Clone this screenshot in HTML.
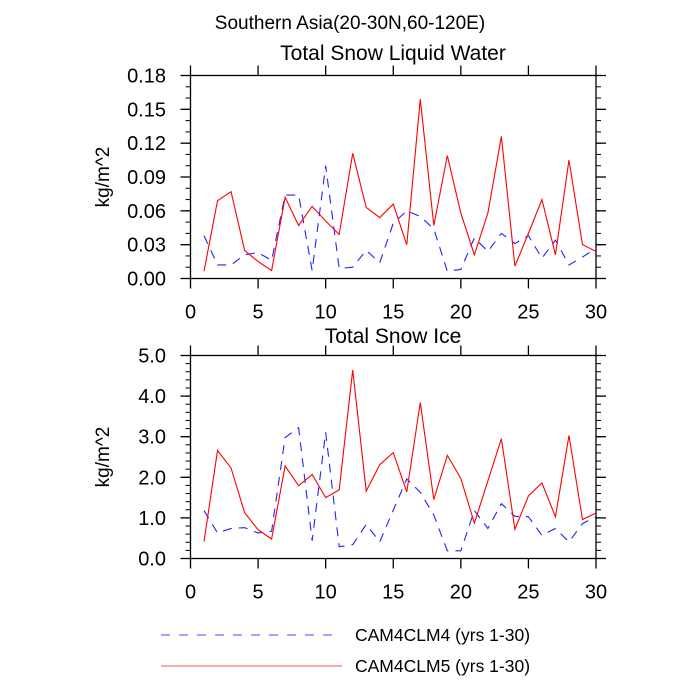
<!DOCTYPE html>
<html><head><meta charset="utf-8"><style>
html,body{margin:0;padding:0;background:#fff}
svg{display:block;font-family:"Liberation Sans",sans-serif}
</style></head><body>
<svg id="c" width="700" height="700" viewBox="0 0 700 700">
<text x="350" y="29" text-anchor="middle" font-size="19">Southern Asia(20-30N,60-120E)</text>
<g id="p1"></g><g id="p2"></g>
<g>
<line x1="161" y1="635" x2="340" y2="635" stroke="#4444ff" stroke-width="1" stroke-dasharray="9,9"/>
<text x="355" y="641" font-size="17.5">CAM4CLM4 (yrs 1-30)</text>
<line x1="161" y1="666" x2="342" y2="666" stroke="#ff5555" stroke-width="1"/>
<text x="355" y="672" font-size="17.5">CAM4CLM5 (yrs 1-30)</text>
</g>
</svg>
<script>
const years = [1,2,3,4,5,6,7,8,9,10,11,12,13,14,15,16,17,18,19,20,21,22,23,24,25,26,27,28,29,30];
const liqClm5 = [0.0065,0.069,0.077,0.025,0.015,0.007,0.072,0.047,0.064,0.051,0.039,0.111,0.063,0.054,0.066,0.030,0.159,0.047,0.109,0.058,0.021,0.058,0.126,0.011,0.040,0.070,0.021,0.105,0.030,0.024];
const liqClm4 = [0.038,0.012,0.012,0.021,0.023,0.016,0.074,0.074,0.007,0.100,0.009,0.010,0.025,0.014,0.049,0.060,0.055,0.044,0.0065,0.008,0.036,0.024,0.040,0.031,0.038,0.018,0.034,0.012,0.019,0.027];
const iceClm5 = [0.42,2.66,2.23,1.13,0.71,0.48,2.28,1.79,2.07,1.50,1.69,4.64,1.66,2.31,2.61,1.64,3.84,1.45,2.54,1.97,0.87,1.91,2.95,0.72,1.54,1.86,1.03,3.03,0.96,1.12];
const iceClm4 = [1.18,0.63,0.74,0.76,0.63,0.67,2.98,3.22,0.44,3.11,0.29,0.34,0.84,0.41,1.19,1.96,1.63,1.07,0.19,0.19,1.18,0.74,1.35,1.04,1.03,0.57,0.74,0.41,0.86,1.03];
const xTicks = [0,5,10,15,20,25,30];
const liqTicks = ["0.00","0.03","0.06","0.09","0.12","0.15","0.18"];
const iceTicks = ["0.0","1.0","2.0","3.0","4.0","5.0"];
const NS='http://www.w3.org/2000/svg';
function mk(parent,tag,attrs){const e=document.createElementNS(NS,tag);for(const k in attrs)e.setAttribute(k,attrs[k]);parent.appendChild(e);return e;}
function panel(g,top,bot,ymax,ticks,minorStep,title,titleY,s4,s5,prefix){
  const L=190.5,R=596,xs=v=>L+(R-L)*v/30,ys=v=>bot-(bot-top)*v/ymax;
  let t=mk(g,'text',{x:393,y:titleY,'text-anchor':'middle','font-size':21});t.textContent=title;
  
  
  const fr=mk(g,'rect',{x:L,y:top,width:R-L,height:bot-top,fill:'none',stroke:'#000','stroke-width':1.3});
  
  
  xTicks.forEach(v=>{const x=xs(v);
    mk(g,'line',{x1:x,y1:top,x2:x,y2:top-10,stroke:'#000','stroke-width':1.3});
    mk(g,'line',{x1:x,y1:bot,x2:x,y2:bot+10,stroke:'#000','stroke-width':1.3});
    const tx=mk(g,'text',{x:x,y:bot+40,'text-anchor':'middle','font-size':20});tx.textContent=v;
    
    
  });
  for(let v=0;v<=ymax+1e-9;v+=minorStep){const y=ys(v);
    mk(g,'line',{x1:L,y1:y,x2:L-5,y2:y,stroke:'#000','stroke-width':1});
    mk(g,'line',{x1:R,y1:y,x2:R+5,y2:y,stroke:'#000','stroke-width':1});}
  ticks.forEach((lab,i)=>{const y=ys(ymax*i/(ticks.length-1));
    mk(g,'line',{x1:L,y1:y,x2:L-10,y2:y,stroke:'#000','stroke-width':1.3});
    mk(g,'line',{x1:R,y1:y,x2:R+10,y2:y,stroke:'#000','stroke-width':1.3});
    const tx=mk(g,'text',{x:166,y:y+7,'text-anchor':'end','font-size':20});tx.textContent=lab;
    
    
  });
  const yl=mk(g,'text',{x:0,y:0,'text-anchor':'middle','font-size':19,transform:`translate(109,${(top+bot)/2}) rotate(-90)`});yl.textContent='kg/m^2';
  
  
  const p4=mk(g,'polyline',{points:years.map((x,i)=>xs(x)+','+ys(s4[i])).join(' '),fill:'none',stroke:'#2222ff','stroke-width':1.1,'stroke-dasharray':'9,7'});
  
  
  const p5=mk(g,'polyline',{points:years.map((x,i)=>xs(x)+','+ys(s5[i])).join(' '),fill:'none',stroke:'#ff0000','stroke-width':1.1});
  
  
}
const g1=document.getElementById('p1');


const g2=document.getElementById('p2');


panel(g1,75.5,278.5,0.18,liqTicks,0.01,'Total Snow Liquid Water',60,liqClm4,liqClm5,'liquid');
panel(g2,355.5,558.5,5,iceTicks,0.2,'Total Snow Ice',343,iceClm4,iceClm5,'ice');
</script>
</body></html>
